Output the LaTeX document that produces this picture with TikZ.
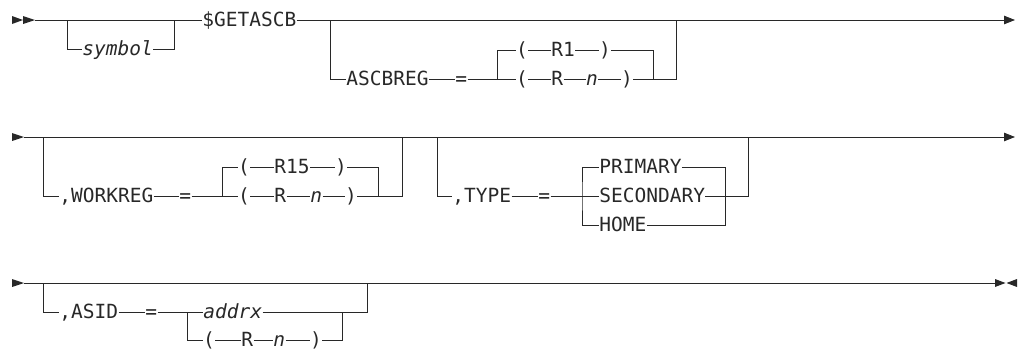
\documentclass[tikz,border=0pt]{standalone}
\usepackage{fontspec}
\usepackage{tikz}
\usetikzlibrary{arrows.meta,calc}
\newfontfamily\railfont{DejaVu Sans Mono}
\definecolor{railgray}{RGB}{40, 40, 40}

\tikzset{
  tok/.style={font=\railfont\fontsize{19.5}{23}\selectfont, inner sep=0pt, anchor=west,
              text height=12pt, text depth=0pt, text=railgray},
  itok/.style={tok, font=\railfont\fontsize{19.5}{23}\selectfont\itshape},
  railtip/.style={-{Triangle[length=11pt,width=8.5pt]}}
}

\begin{document}
\begin{tikzpicture}[x=1pt,y=-1pt,line width=0.8pt,draw=railgray]
    \useasboundingbox (0,0) rectangle (1019,351);

    % Row 1: [symbol] $GETASCB [ASCBREG=...]
    \fill[railgray] (12,16) -- (23,20) -- (12,24) -- cycle;
    \fill[railgray] (23,16) -- (35,20) -- (23,24) -- cycle;
    \coordinate (start1) at (35,20);
    \coordinate (end1) at (1015,20);
    \coordinate (symL) at (67,20);
    \coordinate (symR) at (174,20);
    \coordinate (ascL) at (330,20);
    \coordinate (ascR) at (676,20);
    \coordinate (chA) at (497,79);
    \coordinate (chAR) at (653,79);
    \node[itok] (symbol) at (82,49) {symbol};
    \node[tok] (getascb) at (202,20) {\$GETASCB};
    \node[tok] (ascbreg) at (346,79) {ASCBREG};
    \node[tok] (eqA) at (455,79) {=};
    \node[tok] (lpA1) at (515.6,50) {(};
    \node[tok] (rA1) at (551,50) {R1};
    \node[tok] (rpA1) at (598.6,50) {)};
    \node[tok] (lpA2) at (515.6,79) {(};
    \node[tok] (rA2) at (551,79) {R};
    \node[itok] (nA2) at (585.8,79) {n};
    \node[tok] (rpA2) at (620.6,79) {)};
    \draw (start1) -- (getascb.west);
    \draw[railtip] (getascb.east) -- (end1);
    \draw (symL) |- (symbol.west);
    \draw (symbol.east) -| (symR);
    \draw (ascL) |- (ascbreg.west);
    \draw (ascbreg.east) -- (eqA.west);
    \draw (eqA.east) -- (lpA2.west);
    \draw (chA) |- (lpA1.west);
    \draw (lpA1.east) -- (rA1.west) (rA1.east) -- (rpA1.west);
    \draw (rpA1.east) -| (chAR);
    \draw (lpA2.east) -- (rA2.west) (rA2.east) -- (nA2.west) (nA2.east) -- (rpA2.west);
    \draw (rpA2.east) -| (ascR);

    % Row 2: [,WORKREG=...] [,TYPE=...]
    \fill[railgray] (12,133) -- (24,137) -- (12,141) -- cycle;
    \coordinate (start2) at (24,137);
    \coordinate (end2) at (1015,137);
    \coordinate (wkL) at (43,137);
    \coordinate (wkR) at (402,137);
    \coordinate (chW) at (222,196);
    \coordinate (chWR) at (378,196);
    \coordinate (tyL) at (437,137);
    \coordinate (tyR) at (748,137);
    \coordinate (chT) at (582,196);
    \coordinate (chTR) at (725,196);
    \node[tok] (workreg) at (59,196) {,WORKREG};
    \node[tok] (eqW) at (179,196) {=};
    \node[tok] (lpW1) at (237.6,167) {(};
    \node[tok] (rW1) at (274,167) {R15};
    \node[tok] (rpW1) at (334.6,167) {)};
    \node[tok] (lpW2) at (237.6,196) {(};
    \node[tok] (rW2) at (274,196) {R};
    \node[itok] (nW2) at (310,196) {n};
    \node[tok] (rpW2) at (344.6,196) {)};
    \node[tok] (type) at (452,196) {,TYPE};
    \node[tok] (eqT) at (538,196) {=};
    \node[tok] (primary) at (599,167) {PRIMARY};
    \node[tok] (secondary) at (599,196) {SECONDARY};
    \node[tok] (home) at (599,225) {HOME};
    \draw[railtip] (start2) -- (end2);
    \draw (wkL) |- (workreg.west);
    \draw (workreg.east) -- (eqW.west);
    \draw (eqW.east) -- (lpW2.west);
    \draw (chW) |- (lpW1.west);
    \draw (lpW1.east) -- (rW1.west) (rW1.east) -- (rpW1.west);
    \draw (rpW1.east) -| (chWR);
    \draw (lpW2.east) -- (rW2.west) (rW2.east) -- (nW2.west) (nW2.east) -- (rpW2.west);
    \draw (rpW2.east) -| (wkR);
    \draw (tyL) |- (type.west);
    \draw (type.east) -- (eqT.west);
    \draw (eqT.east) -- (secondary.west);
    \draw (primary.west) -| (chT) |- (home.west);
    \draw (primary.east) -| (chTR) |- (home.east);
    \draw (secondary.east) -| (tyR);

    % Row 3: [,ASID=...]
    \fill[railgray] (12,279) -- (24,283) -- (12,287) -- cycle;
    \fill[railgray] (995,279) -- (1005.5,283) -- (995,287) -- cycle;
    \fill[railgray] (1017,279) -- (1006.5,283) -- (1017,287) -- cycle;
    \coordinate (start3) at (24,283);
    \coordinate (end3) at (995,283);
    \coordinate (asL) at (43,283);
    \coordinate (asR) at (367,283);
    \coordinate (chS) at (187,312);
    \coordinate (chSR) at (342,312);
    \node[tok] (asid) at (59,312) {,ASID};
    \node[tok] (eqS) at (145,312) {=};
    \node[itok] (addrx) at (203,312) {addrx};
    \node[tok] (lpS) at (202.6,340) {(};
    \node[tok] (rS) at (241,340) {R};
    \node[itok] (nS) at (273,340) {n};
    \node[tok] (rpS) at (309.6,340) {)};
    \draw (start3) -- (end3);
    \draw (asL) |- (asid.west);
    \draw (asid.east) -- (eqS.west);
    \draw (eqS.east) -- (addrx.west);
    \draw (chS) |- (lpS.west);
    \draw (lpS.east) -- (rS.west) (rS.east) -- (nS.west) (nS.east) -- (rpS.west);
    \draw (rpS.east) -| (chSR);
    \draw (addrx.east) -| (asR);
\end{tikzpicture}
\end{document}
